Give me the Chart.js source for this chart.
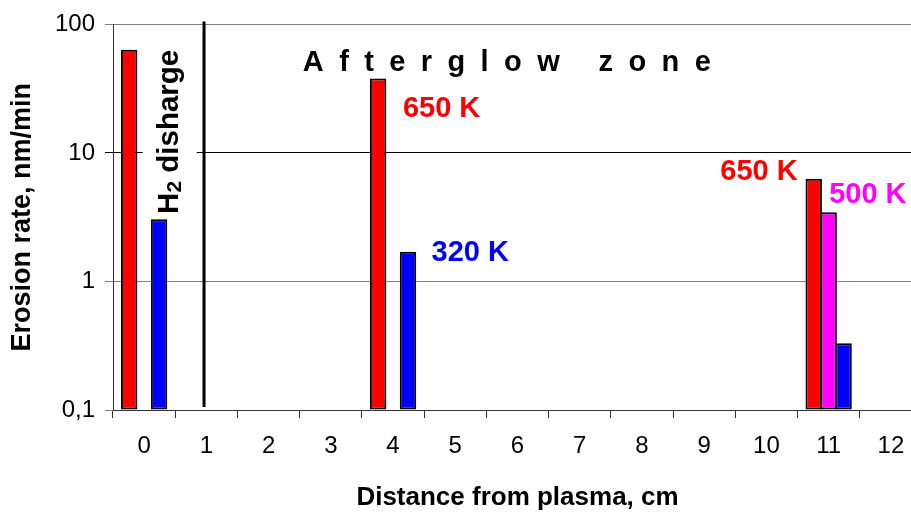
<!DOCTYPE html>
<html><head><meta charset="utf-8">
<script src="https://cdn.jsdelivr.net/npm/chart.js@4.4.1/dist/chart.umd.min.js"></script>
<style>html,body{margin:0;padding:0;background:#fff;overflow:hidden;width:911px;height:515px}canvas{display:block}</style>
</head><body>
<canvas id="c" width="926" height="515"></canvas>
<script>
// ---- data ----
const categories = ['0','1','2','3','4','5','6','7','8','9','10','11','12'];
const red650     = [63.5, null, null, null, 38,  null, null, null, null, null, null, 6.3,  null];
const magenta500 = [null, null, null, null, null, null, null, null, null, null, null, 3.45, null];
const blue320    = [3.05, null, null, null, 1.7, null, null, null, null, null, null, 0.33, null];
const yTickValues = [0.1, 1, 10, 100];
const yTickLabels = ['0,1', '1', '10', '100'];
const xTitle = 'Distance from plasma, cm';
const yTitle = 'Erosion rate, nm/min';

// ---- annotation placement (category index, y value) ----
const FONT = "'Liberation Sans', Arial, sans-serif";
const tempLabels = [
  {text: '650 K', cat: 4.78,  val: 21.9, color: '#FF0000'},
  {text: '320 K', cat: 5.24,  val: 1.66, color: '#0000FF'},
  {text: '650 K', cat: 9.88,  val: 7.13, color: '#FF0000'},
  {text: '500 K', cat: 11.63, val: 4.74, color: '#FF00FF'}
];
const zoneLabel = {text: 'Afterglow zone', cat: 2.55, val: 50.5};
const dischargeLabel = {cat: 0.38, val: 14.6};
const dividerLine = {cat: 0.963, from: 0.1055, to: 105.5};

const overlay = {
  id: 'overlay',
  beforeDatasetsDraw(chart) {
    const {ctx, scales: {x, y}} = chart;
    const cx = x.getPixelForValue(dischargeLabel.cat);
    const cy = y.getPixelForValue(dischargeLabel.val);
    const size = 29.5;
    ctx.save();
    ctx.translate(cx, cy);
    ctx.rotate(-Math.PI / 2);
    const big = 'bold ' + size + 'px ' + FONT;
    const small = 'bold ' + Math.round(size * 0.72) + 'px ' + FONT;
    ctx.font = big; const wH = ctx.measureText('H').width;
    const wRest = ctx.measureText(' disharge').width;
    ctx.font = small; const w2 = ctx.measureText('2').width;
    const total = wH + w2 + wRest;
    // white background box
    ctx.fillStyle = '#fff';
    ctx.fillRect(-total / 2 - 4, -25, total + 8, 54);
    const base = size * 0.358;
    let px = -total / 2;
    ctx.fillStyle = '#000';
    ctx.textBaseline = 'alphabetic';
    ctx.textAlign = 'left';
    ctx.font = big; ctx.fillText('H', px, base); px += wH;
    ctx.font = small; ctx.fillText('2', px, base + size * 0.1); px += w2;
    ctx.font = big; ctx.fillText(' disharge', px, base);
    ctx.restore();
  },
  afterDatasetsDraw(chart) {
    const {ctx, scales: {x, y}} = chart;
    ctx.save();
    // divider line
    const lx = x.getPixelForValue(dividerLine.cat);
    ctx.strokeStyle = '#000';
    ctx.lineWidth = 3;
    ctx.beginPath();
    ctx.moveTo(lx, y.getPixelForValue(dividerLine.to));
    ctx.lineTo(lx, y.getPixelForValue(dividerLine.from));
    ctx.stroke();
    // temperature labels
    ctx.font = 'bold 29px ' + FONT;
    ctx.textAlign = 'center';
    ctx.textBaseline = 'middle';
    tempLabels.forEach(l => {
      ctx.fillStyle = l.color;
      ctx.fillText(l.text, x.getPixelForValue(l.cat), y.getPixelForValue(l.val));
    });
    // zone label
    ctx.fillStyle = '#000';
    ctx.textAlign = 'left';
    ctx.letterSpacing = '15.4px';
    ctx.fillText(zoneLabel.text, x.getPixelForValue(zoneLabel.cat), y.getPixelForValue(zoneLabel.val));
    ctx.restore();
  }
};

new Chart(document.getElementById('c'), {
  type: 'bar',
  data: {
    labels: categories,
    datasets: [
      {label: '650 K', data: red650, backgroundColor: '#FF0000'},
      {label: '500 K', data: magenta500, backgroundColor: '#FF00FF'},
      {label: '320 K', data: blue320, backgroundColor: '#0000FF'}
    ].map(d => Object.assign(d, {borderColor: '#000', borderWidth: 2, borderSkipped: false,
      categoryPercentage: 0.72, barPercentage: 1.1, base: 0.1}))
  },
  options: {
    responsive: false,
    animation: false,
    devicePixelRatio: 1,
    layout: {padding: {left: 0, right: 4, top: 20, bottom: 0}},
    plugins: {legend: {display: false}, tooltip: {enabled: false}},
    scales: {
      x: {
        type: 'category',
        offset: true,
        afterFit: s => { s.height = 105; },
        grid: {display: true, offset: true, drawOnChartArea: false, drawTicks: true, tickLength: 8, color: '#333', lineWidth: 1},
        border: {display: true, color: '#333', width: 1},
        ticks: {color: '#000', font: {family: FONT, size: 24}, padding: 14, maxRotation: 0, autoSkip: false},
        title: {display: true, text: xTitle, color: '#000', font: {family: FONT, size: 26, weight: 'bold'}, padding: {top: 0, bottom: 2}}
      },
      y: {
        type: 'logarithmic',
        min: 0.1, max: 100,
        afterFit: s => { s.width = 113; },
        afterBuildTicks: s => { s.ticks = yTickValues.map(v => ({value: v})); },
        grid: {display: true, drawTicks: true, tickLength: 8,
          color: c => (c.tick && c.tick.value === 10) ? '#000' : '#808080', lineWidth: 1},
        border: {display: true, color: '#333', width: 1},
        ticks: {color: '#000', font: {family: FONT, size: 24}, padding: 10,
          callback: v => yTickLabels[yTickValues.indexOf(v)]},
        title: {display: true, text: yTitle, color: '#000', font: {family: FONT, size: 27, weight: 'bold'}, padding: {top: 6, bottom: 0}}
      }
    }
  },
  plugins: [overlay]
});
</script>
</body></html>
